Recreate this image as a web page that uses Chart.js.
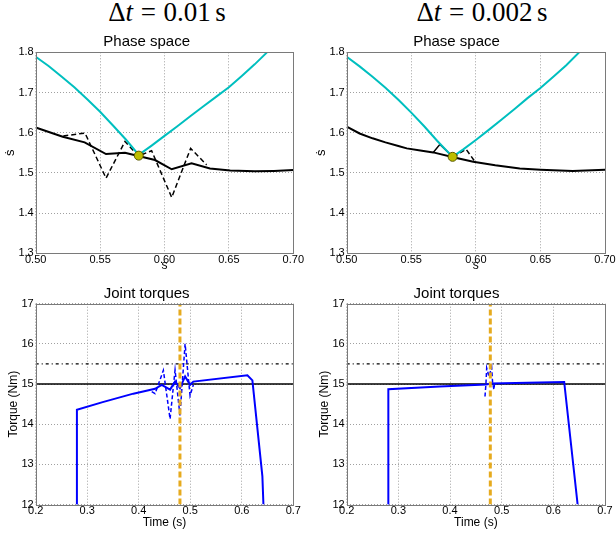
<!DOCTYPE html>
<html><head><meta charset="utf-8">
<script src="https://cdn.jsdelivr.net/npm/chart.js@4.4.1/dist/chart.umd.min.js"></script>
<style>
html,body{margin:0;padding:0;background:#fff;}
body{width:616px;height:533px;position:relative;overflow:hidden;}
.hdr{position:absolute;width:240px;text-align:center;font-family:"Liberation Serif","Times New Roman",serif;font-size:27px;color:#000;white-space:nowrap;line-height:normal;}
.hdr .eq{margin:0 0.28em;}
.hdr .u{margin-left:0.17em;}
.box{position:absolute;}
canvas{display:block;}
</style></head><body>
<div class="hdr" style="left:47px;top:-3px">Δ<i>t</i><span class="eq">=</span>0.01<span class="u">s</span></div>
<div class="hdr" style="left:362px;top:-3px">Δ<i>t</i><span class="eq">=</span>0.002<span class="u">s</span></div>
<div class="box" style="left:0;top:33px"><canvas id="c1" width="308" height="240"></canvas></div>
<div class="box" style="left:308px;top:33px"><canvas id="c2" width="308" height="240"></canvas></div>
<div class="box" style="left:0;top:285px"><canvas id="c3" width="308" height="245"></canvas></div>
<div class="box" style="left:308px;top:285px"><canvas id="c4" width="308" height="245"></canvas></div>
<script>
// ---------- tick labels ----------
const phaseSTicks = [0.50, 0.55, 0.60, 0.65, 0.70];
const phaseVTicks = [1.3, 1.4, 1.5, 1.6, 1.7, 1.8];
const timeTicks = [0.2, 0.3, 0.4, 0.5, 0.6, 0.7];
const torqueTicks = [12, 13, 14, 15, 16, 17];

// ---------- Δt = 0.01 s : phase space ----------
const limitS_a = [0.50, 0.51, 0.52, 0.53, 0.54, 0.55, 0.56, 0.57, 0.58, 0.59, 0.60, 0.61, 0.62, 0.63, 0.64, 0.65, 0.66, 0.67, 0.68, 0.69];
const limitV_a = [1.789, 1.766, 1.740, 1.713, 1.683, 1.652, 1.618, 1.583, 1.545, 1.568, 1.592, 1.616, 1.641, 1.665, 1.689, 1.713, 1.741, 1.770, 1.801, 1.832];
const trajS_a = [0.50, 0.521, 0.538, 0.5546, 0.5693, 0.5797, 0.5926, 0.6056, 0.621, 0.6353, 0.651, 0.67, 0.685, 0.70];
const trajV_a = [1.613, 1.590, 1.576, 1.547, 1.550, 1.542, 1.532, 1.509, 1.524, 1.511, 1.506, 1.504, 1.505, 1.507];
const dashS_a = [0.5214, 0.5383, 0.5546, 0.5693, 0.5797, 0.590, 0.6056, 0.6203, 0.6327];
const dashV_a = [1.592, 1.599, 1.487, 1.578, 1.542, 1.555, 1.439, 1.561, 1.520];
const switchS_a = [0.580];
const switchV_a = [1.543];

// ---------- Δt = 0.002 s : phase space ----------
const limitS_b = [0.50, 0.51, 0.52, 0.53, 0.54, 0.55, 0.56, 0.57, 0.582, 0.59, 0.60, 0.61, 0.62, 0.63, 0.64, 0.65, 0.66, 0.67, 0.68, 0.69];
const limitV_b = [1.789, 1.765, 1.739, 1.712, 1.682, 1.650, 1.616, 1.580, 1.540, 1.558, 1.582, 1.607, 1.633, 1.659, 1.686, 1.711, 1.739, 1.768, 1.800, 1.832];
const trajS_b = [0.50, 0.51, 0.52, 0.53, 0.54, 0.5465, 0.557, 0.567, 0.5825, 0.598, 0.615, 0.634, 0.65, 0.675, 0.70];
const trajV_b = [1.615, 1.598, 1.586, 1.576, 1.567, 1.561, 1.556, 1.551, 1.539, 1.528, 1.519, 1.511, 1.508, 1.505, 1.508];
const spikeS_b = [0.567, 0.5722, 0.5825];
const spikeV_b = [1.551, 1.571, 1.539];
const dashS_b = [0.5825, 0.5924, 0.5993];
const dashV_b = [1.539, 1.559, 1.528];
const switchS_b = [0.582];
const switchV_b = [1.540];

// ---------- Δt = 0.01 s : joint torques ----------
const torqueT_a = [0.2796, 0.2800, 0.33, 0.3895, 0.4317, 0.4446, 0.4608, 0.4705, 0.480, 0.490, 0.4996, 0.506, 0.6109, 0.6206, 0.640, 0.642];
const torqueV_a = [12.0, 14.36, 14.55, 14.76, 14.88, 14.98, 14.86, 15.06, 14.90, 15.19, 14.98, 15.06, 15.22, 15.09, 12.70, 12.0];
const tdashT_a = [0.4252, 0.4317, 0.4478, 0.4608, 0.4705, 0.480, 0.490, 0.4996, 0.506];
const tdashV_a = [14.81, 14.76, 15.34, 14.13, 15.35, 14.22, 16.00, 14.71, 14.98];
const switchT_a = 0.480;

// ---------- Δt = 0.002 s : joint torques ----------
const torqueT_b = [0.2805, 0.2806, 0.38, 0.47, 0.48, 0.55, 0.621, 0.647];
const torqueV_b = [12.0, 14.87, 14.94, 14.99, 15.01, 15.03, 15.05, 12.0];
const tdashT_b = [0.4677, 0.4696, 0.471, 0.4754, 0.4806, 0.4825, 0.4851, 0.486];
const tdashV_b = [14.69, 15.02, 15.40, 15.19, 15.42, 15.02, 14.86, 15.01];
const switchT_b = 0.478;

// ---------- limits ----------
const torqueLimit = 15.0;
const torqueLimitHigh = 15.5;

const FONT = "'Liberation Sans', Arial, 'DejaVu Sans', sans-serif";
const zip = (xs, ys) => xs.map((x, i) => ({x, y: ys[i]}));

const framePlugin = {
  id: 'frame',
  afterDatasetsDraw(chart) {
    const {ctx, chartArea: a} = chart;
    ctx.save();
    ctx.strokeStyle = '#7a7a7a';
    ctx.lineWidth = 1;
    ctx.strokeRect(Math.round(a.left) + 0.5, Math.round(a.top) + 0.5,
      Math.round(a.right) - Math.round(a.left), Math.round(a.bottom) - Math.round(a.top));
    ctx.restore();
  }
};

function axis(opts) {
  const {horizontal, min, max, ticks, fmt, size, title, titlePad} = opts;
  return {
    type: 'linear',
    position: horizontal ? 'bottom' : 'left',
    min, max,
    afterBuildTicks(s) { s.ticks = ticks.map(v => ({value: v})); },
    afterFit(s) {
      if (horizontal) s.height = size; else s.width = size;
      s.paddingLeft = 0; s.paddingRight = 0; s.paddingTop = 0; s.paddingBottom = 0;
    },
    ticks: {
      autoSkip: false, maxRotation: 0, minRotation: 0,
      padding: horizontal ? 0 : 2,
      color: '#000',
      font: {family: FONT, size: 11},
      callback: v => fmt(v)
    },
    grid: {
      display: true, drawTicks: false, color: '#a0a0a0', lineWidth: 1
    },
    border: {display: false, dash: [1, 2]},
    title: {
      display: true, text: title, color: '#000',
      font: {family: FONT, size: title === 'ṡ' ? 13 : 12, lineHeight: 1.2},
      padding: titlePad
    }
  };
}

function baseOptions(cfg) {
  return {
    responsive: false,
    animation: false,
    devicePixelRatio: 1,
    layout: {padding: {left: 0, top: 0, right: cfg.padRight, bottom: 0}},
    plugins: {
      legend: {display: false},
      tooltip: {enabled: false},
      title: {
        display: true, text: cfg.title, color: '#000',
        font: {family: FONT, size: 15, weight: 'normal', lineHeight: 1.2},
        padding: {top: 0, bottom: cfg.titleGap}
      }
    },
    scales: {x: cfg.x, y: cfg.y}
  };
}

function line(data, color, width, dash, order) {
  return {data, borderColor: color, backgroundColor: color, borderWidth: width,
    borderDash: dash || [], showLine: true, pointRadius: 0, fill: false, tension: 0, order};
}

function phaseChart(id, limit, traj, extraSolid, dashed, sw, yW, padRight, yTitlePad) {
  const datasets = [
    {data: sw, showLine: false, pointRadius: 4.5, pointBackgroundColor: '#bdbd00',
     pointBorderColor: '#5a5a00', pointBorderWidth: 1, order: 0},
    line(limit, '#00bfbf', 2, null, 1),
    line(traj, '#000000', 2, null, 2),
    line(dashed, '#000000', 1.5, [5, 3], 3)
  ];
  if (extraSolid) datasets.push(line(extraSolid, '#000000', 1.5, null, 2));
  new Chart(document.getElementById(id), {
    type: 'scatter',
    data: {datasets},
    options: baseOptions({
      title: 'Phase space', titleGap: 1.3, padRight,
      x: axis({horizontal: true, min: 0.50, max: 0.70, ticks: phaseSTicks, fmt: v => v.toFixed(2),
               size: 19.7, title: 's', titlePad: {top: 0, bottom: 0}}),
      y: axis({horizontal: false, min: 1.3, max: 1.8, ticks: phaseVTicks, fmt: v => v.toFixed(1),
               size: yW, title: 'ṡ', titlePad: {top: yTitlePad, bottom: 0}})
    }),
    plugins: [framePlugin]
  });
}

function torqueChart(id, solid, dashed, tSwitch, yW, padRight, yTitlePad) {
  const datasets = [
    line([{x: tSwitch, y: 12}, {x: tSwitch, y: 17}], '#e6aa1e', 3, [6, 3], 0),
    line(solid, '#0000ff', 2, null, 1),
    line(dashed, '#0000ff', 1.5, [4, 2.5], 2),
    line([{x: 0.2, y: torqueLimit}, {x: 0.7, y: torqueLimit}], '#000000', 1.5, null, 3),
    line([{x: 0.2, y: torqueLimitHigh}, {x: 0.7, y: torqueLimitHigh}], '#000000', 1.2, [3, 3, 1, 3], 4)
  ];
  new Chart(document.getElementById(id), {
    type: 'scatter',
    data: {datasets},
    options: baseOptions({
      title: 'Joint torques', titleGap: 0.7, padRight,
      x: axis({horizontal: true, min: 0.2, max: 0.7, ticks: timeTicks, fmt: v => v.toFixed(1),
               size: 25.5, title: 'Time (s)', titlePad: {top: 0, bottom: 0}}),
      y: axis({horizontal: false, min: 12, max: 17, ticks: torqueTicks, fmt: v => String(v),
               size: yW, title: 'Torque (Nm)', titlePad: {top: yTitlePad, bottom: 0}})
    }),
    plugins: [framePlugin]
  });
}

phaseChart('c1', zip(limitS_a, limitV_a), zip(trajS_a, trajV_a), null, zip(dashS_a, dashV_a),
           zip(switchS_a, switchV_a), 35.7, 14.7, 3);
phaseChart('c2', zip(limitS_b, limitV_b), zip(trajS_b, trajV_b), zip(spikeS_b, spikeV_b), zip(dashS_b, dashV_b),
           zip(switchS_b, switchV_b), 38.7, 11, 5.8);
torqueChart('c3', zip(torqueT_a, torqueV_a), zip(tdashT_a, tdashV_a), switchT_a, 35.7, 14.7, 6.1);
torqueChart('c4', zip(torqueT_b, torqueV_b), zip(tdashT_b, tdashV_b), switchT_b, 38.7, 11, 9.1);
</script>
</body></html>
